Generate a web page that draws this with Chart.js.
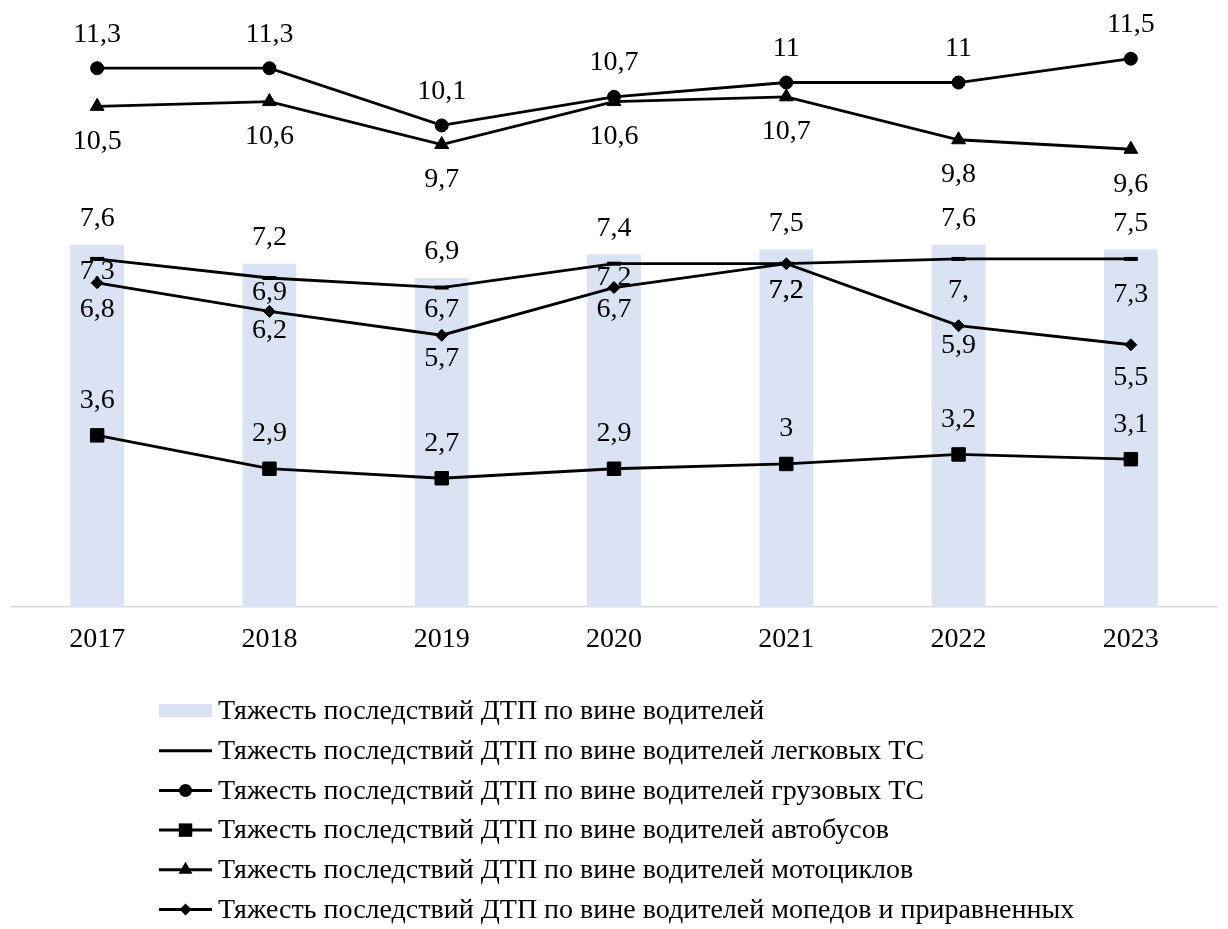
<!DOCTYPE html>
<html><head><meta charset="utf-8">
<script src="https://cdn.jsdelivr.net/npm/chart.js@4.4.1/dist/chart.umd.min.js"></script>
<style>html,body{margin:0;padding:0;background:#fff;} #wrap{width:1228px;height:929px;position:relative;}</style>
</head><body><div id="wrap"><canvas id="c"></canvas></div>
<script>
const years = ['2017', '2018', '2019', '2020', '2021', '2022', '2023'];
const seriesNames = [
  'Тяжесть последствий ДТП по вине водителей',
  'Тяжесть последствий ДТП по вине водителей легковых ТС',
  'Тяжесть последствий ДТП по вине водителей грузовых ТС',
  'Тяжесть последствий ДТП по вине водителей автобусов',
  'Тяжесть последствий ДТП по вине водителей мотоциклов',
  'Тяжесть последствий ДТП по вине водителей мопедов и приравненных'
];
const allDrivers   = [7.6, 7.2, 6.9, 7.4, 7.5, 7.6, 7.5];
const passengerCars = [7.3, 6.9, 6.7, 7.2, 7.2, 7.3, 7.3];
const trucks       = [11.3, 11.3, 10.1, 10.7, 11, 11, 11.5];
const buses        = [3.6, 2.9, 2.7, 2.9, 3, 3.2, 3.1];
const motorcycles  = [10.5, 10.6, 9.7, 10.6, 10.7, 9.8, 9.6];
const mopeds       = [6.8, 6.2, 5.7, 6.7, 7.2, 5.9, 5.5];
// label text as shown in the source (one label is truncated there)
const passengerLabelText = [null, null, null, null, null, '7,', null];

const FONT = "'Liberation Serif', 'Times New Roman', serif";
const LABEL_SIZE = 28;
const LEGEND_SIZE = 28;

function fmt(v) { return String(v).replace('.', ','); }

function drawMarker(ctx, style, r, x, y) {
  ctx.beginPath();
  if (style === 'circle') {
    ctx.arc(x, y, r, 0, Math.PI * 2);
  } else if (style === 'rect') {
    const s = r * Math.SQRT1_2;
    ctx.rect(x - s, y - s, 2 * s, 2 * s);
  } else if (style === 'triangle') {
    for (let k = 0; k < 3; k++) {
      const a = k * 2 * Math.PI / 3;
      const px = x + Math.sin(a) * r, py = y - Math.cos(a) * r;
      if (k === 0) ctx.moveTo(px, py); else ctx.lineTo(px, py);
    }
    ctx.closePath();
  } else if (style === 'rectRot') {
    ctx.moveTo(x - r, y); ctx.lineTo(x, y - r); ctx.lineTo(x + r, y); ctx.lineTo(x, y + r);
    ctx.closePath();
  }
  ctx.fill();
}

const valueLabels = {
  id: 'valueLabels',
  afterDatasetsDraw(chart) {
    const ctx = chart.ctx;
    ctx.save();
    ctx.font = LABEL_SIZE + 'px ' + FONT;
    ctx.fillStyle = '#000';
    ctx.textAlign = 'center';
    ctx.textBaseline = 'middle';
    chart.data.datasets.forEach((ds, i) => {
      const meta = chart.getDatasetMeta(i);
      meta.data.forEach((el, j) => {
        const dy = Array.isArray(ds.labelDy) ? ds.labelDy[j] : ds.labelDy;
        const txt = (ds.labelText && ds.labelText[j]) || fmt(ds.data[j]);
        ctx.fillText(txt, el.x, el.y + dy);
      });
    });
    ctx.restore();
  }
};

const customLegend = {
  id: 'customLegend',
  afterDraw(chart) {
    const ctx = chart.ctx;
    ctx.save();
    const x0 = 159, x1 = 212, tx = 218, y0 = 711, rowH = 39.7;
    chart.data.datasets.forEach((ds, i) => {
      const y = y0 + i * rowH;
      if (ds.type === 'bar') {
        ctx.fillStyle = ds.backgroundColor;
        ctx.fillRect(x0, y - 7, x1 - x0, 13);
      } else {
        ctx.strokeStyle = ds.borderColor;
        ctx.lineWidth = 3;
        ctx.beginPath(); ctx.moveTo(x0, y); ctx.lineTo(x1, y); ctx.stroke();
        if (ds.pointStyle !== 'line') {
          ctx.fillStyle = ds.pointBackgroundColor;
          drawMarker(ctx, ds.pointStyle, ds.pointRadius, (x0 + x1) / 2, y);
        }
      }
      ctx.fillStyle = '#000';
      ctx.font = LEGEND_SIZE + 'px ' + FONT;
      ctx.textAlign = 'left';
      ctx.textBaseline = 'middle';
      ctx.fillText(ds.label, tx, y + 1);
    });
    ctx.restore();
  }
};

const lineBase = {
  type: 'line',
  borderColor: '#000',
  borderWidth: 2.8,
  pointBackgroundColor: '#000',
  pointBorderColor: '#000',
  pointBorderWidth: 1,
  fill: false,
  tension: 0,
  order: 1
};

new Chart(document.getElementById('c'), {
  data: {
    labels: years,
    datasets: [
      { type: 'bar', label: seriesNames[0], data: allDrivers, backgroundColor: '#DAE3F3',
        barPercentage: 0.312, categoryPercentage: 1, order: 10, labelDy: -26 },
      Object.assign({}, lineBase, { label: seriesNames[1], data: passengerCars, pointStyle: 'line',
        pointRadius: 7, pointBorderWidth: 4, labelText: passengerLabelText,
        labelDy: [13, 15, 22, 14, 27, 32, 36] }),
      Object.assign({}, lineBase, { label: seriesNames[2], data: trucks, pointStyle: 'circle',
        pointRadius: 6.5, labelDy: -34 }),
      Object.assign({}, lineBase, { label: seriesNames[3], data: buses, pointStyle: 'rect',
        pointRadius: 9.5, labelDy: -35 }),
      Object.assign({}, lineBase, { label: seriesNames[4], data: motorcycles, pointStyle: 'triangle',
        pointRadius: 8, labelDy: 35 }),
      Object.assign({}, lineBase, { label: seriesNames[5], data: mopeds, pointStyle: 'rectRot',
        pointRadius: 6, labelDy: [27, 19, 23, 22, 27, 20, 33] })
    ]
  },
  options: {
    responsive: true,
    maintainAspectRatio: false,
    animation: false,
    layout: { padding: { left: 9, right: 8, top: 10, bottom: 0 } },
    plugins: { legend: { display: false }, tooltip: { enabled: false } },
    scales: {
      x: {
        grid: { display: false, drawTicks: false },
        border: { display: true, color: '#D9D9D9', width: 1.5 },
        ticks: { color: '#000', font: { family: FONT, size: 28 }, padding: 16 },
        afterFit(scale) { scale.height = 929 - 607; }
      },
      y: { display: false, min: 0, max: 12.5 }
    }
  },
  plugins: [valueLabels, customLegend]
});
</script>
</body></html>
